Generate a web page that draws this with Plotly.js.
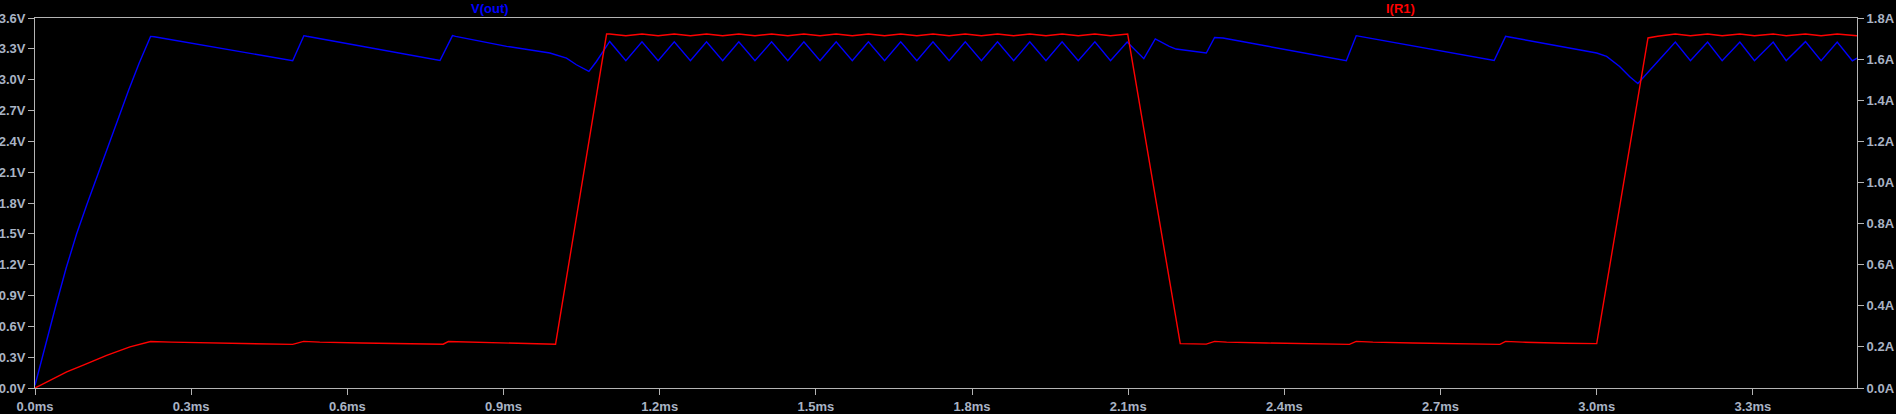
<!DOCTYPE html>
<html>
<head>
<meta charset="utf-8">
<script src="https://cdn.plot.ly/plotly-3.0.1.min.js"></script>
<style>
html,body{margin:0;padding:0;background:#000;}
#chart{width:1896px;height:414px;}
</style>
</head>
<body>
<div id="chart"></div>
<script>
// V(out) in volts, time in ms
const vTime = [0, 0.02, 0.04, 0.06, 0.08, 0.10, 0.12, 0.14, 0.16, 0.18, 0.20, 0.222, 0.229, 0.495, 0.5165, 0.522, 0.778, 0.802, 0.808, 0.906, 0.989, 1.021, 1.040, 1.064, 1.0785,
  1.104, 1.135, 1.166, 1.197, 1.228, 1.259, 1.290, 1.321, 1.352, 1.383, 1.415, 1.446, 1.477, 1.508, 1.539, 1.570,
  1.601, 1.632, 1.663, 1.694, 1.725, 1.756, 1.787, 1.818, 1.849, 1.880, 1.911, 1.942, 1.973, 2.004, 2.036, 2.066, 2.098,
  2.130, 2.152, 2.179, 2.192, 2.250, 2.266, 2.282, 2.519, 2.538, 2.545, 2.803, 2.825, 2.832, 3.000, 3.019, 3.044, 3.063, 3.079,
  3.151, 3.180, 3.213, 3.241, 3.275, 3.303, 3.339, 3.364, 3.401, 3.431, 3.462, 3.491, 3.500];
const vOut = [0.026, 0.42, 0.80, 1.17, 1.50, 1.79, 2.07, 2.35, 2.63, 2.90, 3.16, 3.421, 3.418, 3.184, 3.428, 3.422, 3.187, 3.428, 3.421, 3.324, 3.259, 3.210, 3.145, 3.080, 3.177,
  3.372, 3.184, 3.368, 3.184, 3.368, 3.184, 3.368, 3.184, 3.368, 3.184, 3.368, 3.184, 3.368, 3.184, 3.368, 3.184,
  3.368, 3.184, 3.368, 3.184, 3.368, 3.184, 3.368, 3.184, 3.368, 3.184, 3.368, 3.184, 3.368, 3.184, 3.368, 3.184, 3.366,
  3.204, 3.396, 3.324, 3.298, 3.259, 3.411, 3.405, 3.184, 3.428, 3.421, 3.187, 3.421, 3.415, 3.259, 3.226, 3.129, 3.031, 2.963,
  3.366, 3.184, 3.366, 3.184, 3.366, 3.184, 3.366, 3.184, 3.370, 3.184, 3.366, 3.184, 3.210];

// I(R1) in amps, time in ms
const iTime = [0, 0.0609, 0.0928, 0.1377, 0.1824, 0.222, 0.262, 0.339, 0.419, 0.495, 0.516, 0.547, 0.627, 0.784, 0.794, 0.87, 0.95, 1.000,
  1.098, 1.104, 1.135, 1.166, 1.197, 1.228, 1.259, 1.290, 1.321, 1.352, 1.383, 1.415, 1.446, 1.477, 1.508, 1.539, 1.570,
  1.601, 1.632, 1.663, 1.694, 1.725, 1.756, 1.787, 1.818, 1.849, 1.880, 1.911, 1.942, 1.973, 2.004, 2.036, 2.066, 2.099,
  2.200, 2.243, 2.250, 2.266, 2.289, 2.365, 2.442, 2.525, 2.538, 2.570, 2.647, 2.735, 2.814, 2.825, 2.857, 2.938, 3.000,
  3.0985, 3.117, 3.151, 3.180, 3.213, 3.241, 3.275, 3.303, 3.339, 3.364, 3.401, 3.431, 3.462, 3.491, 3.500];
const iR1 = [0, 0.078, 0.111, 0.159, 0.200, 0.226, 0.223, 0.219, 0.214, 0.212, 0.227, 0.223, 0.219, 0.213, 0.226, 0.221, 0.216, 0.213,
  1.722, 1.722, 1.714, 1.722, 1.714, 1.722, 1.714, 1.722, 1.714, 1.722, 1.714, 1.722, 1.714, 1.722, 1.714, 1.722, 1.714,
  1.722, 1.714, 1.722, 1.714, 1.722, 1.714, 1.722, 1.714, 1.722, 1.714, 1.722, 1.714, 1.722, 1.714, 1.722, 1.714, 1.722,
  0.216, 0.216, 0.2135, 0.227, 0.223, 0.219, 0.214, 0.212, 0.227, 0.223, 0.219, 0.214, 0.212, 0.227, 0.223, 0.218, 0.216,
  1.703, 1.711, 1.722, 1.714, 1.722, 1.714, 1.722, 1.714, 1.722, 1.714, 1.722, 1.714, 1.722, 1.714, 1.714];

const vName = 'V(out)';
const iName = 'I(R1)';

const axisGray = '#b4b4b4';
const labelColor = '#a9b3c4';
const tickFont = {family: 'Liberation Sans, Arial, sans-serif', size: 13, color: labelColor, weight: 700};

const traces = [
  {x: vTime, y: vOut, type: 'scatter', mode: 'lines', name: vName, yaxis: 'y',
   line: {color: '#0000ff', width: 1.4}},
  {x: iTime, y: iR1, type: 'scatter', mode: 'lines', name: iName, yaxis: 'y2',
   line: {color: '#ff0000', width: 1.4}}
];

const layout = {
  width: 1896, height: 414,
  paper_bgcolor: '#000000', plot_bgcolor: '#000000',
  margin: {l: 35, r: 39, t: 18, b: 26, pad: 0},
  showlegend: false,
  xaxis: {
    range: [0, 3.5], tick0: 0, dtick: 0.3, tickformat: '.1f', ticksuffix: 'ms',
    showgrid: false, zeroline: false, showline: true, mirror: true,
    linecolor: axisGray, linewidth: 1, ticks: 'outside', ticklen: 6, tickcolor: axisGray,
    tickfont: tickFont, fixedrange: true
  },
  yaxis: {
    range: [0, 3.6], tick0: 0, dtick: 0.3, tickformat: '.1f', ticksuffix: 'V',
    showgrid: false, zeroline: false, showline: true,
    linecolor: axisGray, linewidth: 1, ticks: 'outside', ticklen: 6, tickcolor: axisGray,
    tickfont: tickFont, fixedrange: true
  },
  yaxis2: {
    range: [0, 1.8], tick0: 0, dtick: 0.2, tickformat: '.1f', ticksuffix: 'A',
    overlaying: 'y', side: 'right',
    showgrid: false, zeroline: false, showline: true,
    linecolor: axisGray, linewidth: 1, ticks: 'outside', ticklen: 6, tickcolor: axisGray,
    tickfont: tickFont, fixedrange: true
  },
  annotations: [
    {text: vName, xref: 'paper', yref: 'paper', x: 0.2495, y: 1.0265, xanchor: 'center', yanchor: 'middle',
     showarrow: false, font: {family: 'Liberation Sans, Arial, sans-serif', size: 13, color: '#0000ff', weight: 700}},
    {text: iName, xref: 'paper', yref: 'paper', x: 0.7496, y: 1.0265, xanchor: 'center', yanchor: 'middle',
     showarrow: false, font: {family: 'Liberation Sans, Arial, sans-serif', size: 13, color: '#ff0000', weight: 700}}
  ]
};

Plotly.newPlot('chart', traces, layout, {staticPlot: true, displayModeBar: false});
</script>
</body>
</html>
